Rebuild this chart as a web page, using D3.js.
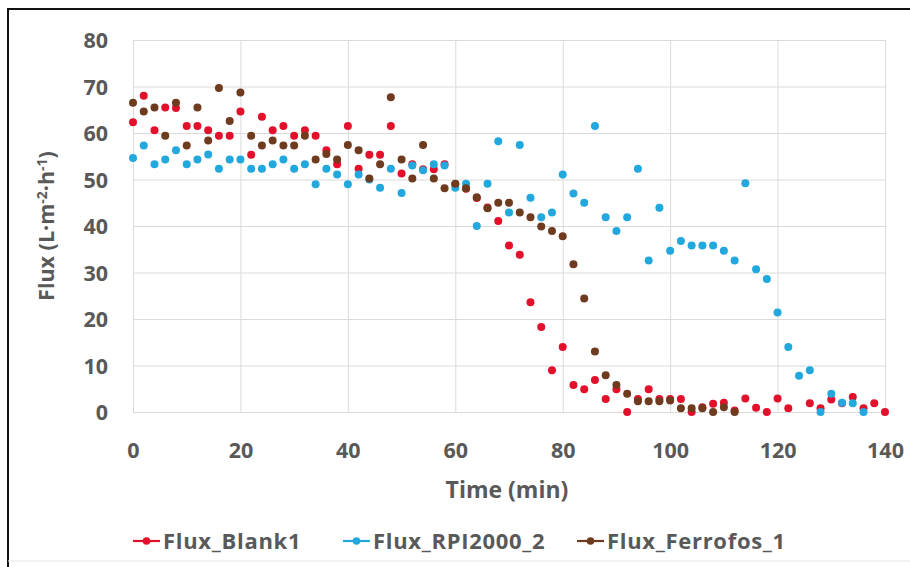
<!DOCTYPE html>
<html>
<head>
<meta charset="utf-8">
<script src="https://cdn.jsdelivr.net/npm/d3@7"></script>
<style>
  html, body { margin: 0; padding: 0; background: #fff; }
  svg { display: block; }
  .lbl { font-family: "Open Sans", "DejaVu Sans", sans-serif; font-weight: bold; fill: #595959; }
</style>
</head>
<body>
<svg id="chart" width="910" height="567"></svg>
<script>
const times = d3.range(0, 141, 2);
const blank1 = [62.3,68,60.6,65.5,65.4,61.5,61.5,60.6,59.4,59.4,64.6,55.3,63.5,60.6,61.5,59.4,60.6,59.4,56.3,53.3,
  61.5,52.3,55.3,55.3,61.5,51.3,53.3,52.2,52.2,53.3,49,48,46,44,41.1,35.8,33.8,23.6,18.3,9,
  14,5.8,4.9,6.9,2.8,4.9,0,2.8,4.9,2.8,2.8,2.8,0,1,1.8,2,0.3,2.9,0.9,0,
  2.9,0.8,null,1.9,0.8,2.7,1.9,3.2,0.8,1.9,0];
const rpi2000 = [54.6,57.3,53.3,54.3,56.3,53.3,54.3,55.4,52.3,54.3,54.3,52.3,52.3,53.3,54.3,52.3,53.3,49,52.3,51.1,
  49,51.1,50,48.2,52.3,47.1,53,52,53.3,53,48.2,49.1,40,49.1,58.2,42.9,57.4,46.1,41.9,42.9,
  51.1,47,45,61.5,41.9,38.9,41.9,52.3,32.6,43.9,34.7,36.8,35.8,35.8,35.8,34.7,32.6,49.2,30.7,28.6,
  21.4,14,7.8,9,0,3.9,2,1.9,0,null,null];
const ferrofos = [66.5,64.6,65.5,59.4,66.5,57.3,65.5,58.4,69.7,62.6,68.7,59.4,57.3,58.4,57.3,57.3,59.4,54.3,55.5,54.3,
  57.4,56.3,50.2,53.3,67.7,54.3,50.2,57.4,50.2,48.1,49.1,48.1,46.2,43.8,45,45,42.9,41.9,39.9,38.9,
  37.8,31.8,24.4,13,7.9,5.8,3.9,2.3,2.3,2.3,2.5,0.8,0.8,0.8,0,1,0,null,null,null,
  null,null,null,null,null,null,null,null,null,null,null];
const seriesNames = ["Flux_Blank1", "Flux_RPI2000_2", "Flux_Ferrofos_1"];
const seriesColors = ["#e3102b", "#22a8dd", "#6e3b1f"];
const xTicks = [0, 20, 40, 60, 80, 100, 120, 140];
const yTicks = [0, 10, 20, 30, 40, 50, 60, 70, 80];

const svg = d3.select("#chart");
const L = 133, R = 885, T = 40, B = 412;
const x = d3.scaleLinear().domain([0, 140]).range([L, R]);
const y = d3.scaleLinear().domain([0, 80]).range([B, T]);

// outer frame (cropped screenshot border)
svg.append("path").attr("d", "M8,567 L8,9 L910,9").attr("fill", "none").attr("stroke", "#111").attr("stroke-width", 2);
svg.append("line").attr("x1", 8).attr("x2", 910).attr("y1", 561).attr("y2", 561).attr("stroke", "#e6e6e6");

// gridlines
const gy = svg.append("g").attr("transform", `translate(${L},0)`)
  .call(d3.axisLeft(y).tickValues(yTicks).tickSize(-(R - L)).tickFormat(""));
gy.select(".domain").remove();
gy.selectAll("line").attr("stroke", "#dadada");
const gx = svg.append("g").attr("transform", `translate(0,${B})`)
  .call(d3.axisBottom(x).tickValues(xTicks).tickSize(-(B - T)).tickFormat(""));
gx.select(".domain").remove();
gx.selectAll("line").attr("stroke", "#dadada");

// tick labels
const ay = svg.append("g").attr("transform", `translate(${L - 25},0)`)
  .call(d3.axisLeft(y).tickValues(yTicks).tickSize(0).tickPadding(0));
ay.select(".domain").remove();
ay.selectAll("text").attr("class", "lbl").attr("font-size", 21.5).attr("dy", "0.36em");
const ax = svg.append("g").attr("transform", `translate(0,${B + 30})`)
  .call(d3.axisBottom(x).tickValues(xTicks).tickSize(0).tickPadding(0));
ax.select(".domain").remove();
ax.selectAll("text").attr("class", "lbl").attr("font-size", 21.5).attr("dy", "0.75em");

// axis titles
svg.append("text").attr("class", "lbl").attr("font-size", 23)
  .attr("x", (L + R) / 2 - 2).attr("y", 498).attr("text-anchor", "middle").text("Time (min)");
const yt = svg.append("text").attr("class", "lbl").attr("font-size", 21.5)
  .attr("transform", `translate(54,${(T + B) / 2}) rotate(-90)`).attr("text-anchor", "middle");
yt.append("tspan").text("Flux (L·m");
yt.append("tspan").attr("font-size", 14).attr("dy", -7).text("-2");
yt.append("tspan").attr("dy", 7).text("·h");
yt.append("tspan").attr("font-size", 14).attr("dy", -7).text("-1");
yt.append("tspan").attr("dy", 7).text(")");

// points
const allSeries = [blank1, rpi2000, ferrofos];
allSeries.forEach((vals, i) => {
  const pts = times.map((t, j) => ({ t, v: vals[j] })).filter(d => d.v != null);
  svg.append("g").selectAll("circle").data(pts).join("circle")
    .attr("cx", d => x(d.t)).attr("cy", d => y(d.v)).attr("r", 4)
    .attr("fill", seriesColors[i]);
});

// legend
const legX = [133, 343, 577];
seriesNames.forEach((name, i) => {
  const g = svg.append("g").attr("transform", `translate(${legX[i]},541)`);
  g.append("line").attr("x1", 0).attr("x2", 27).attr("stroke", seriesColors[i]).attr("stroke-width", 2.2);
  g.append("circle").attr("cx", 13.5).attr("r", 3.8).attr("fill", seriesColors[i]);
  g.append("text").attr("class", "lbl").attr("font-size", 22).attr("letter-spacing", 0.7)
    .attr("x", 30).attr("dy", "0.36em").text(name);
});
</script>
</body>
</html>
